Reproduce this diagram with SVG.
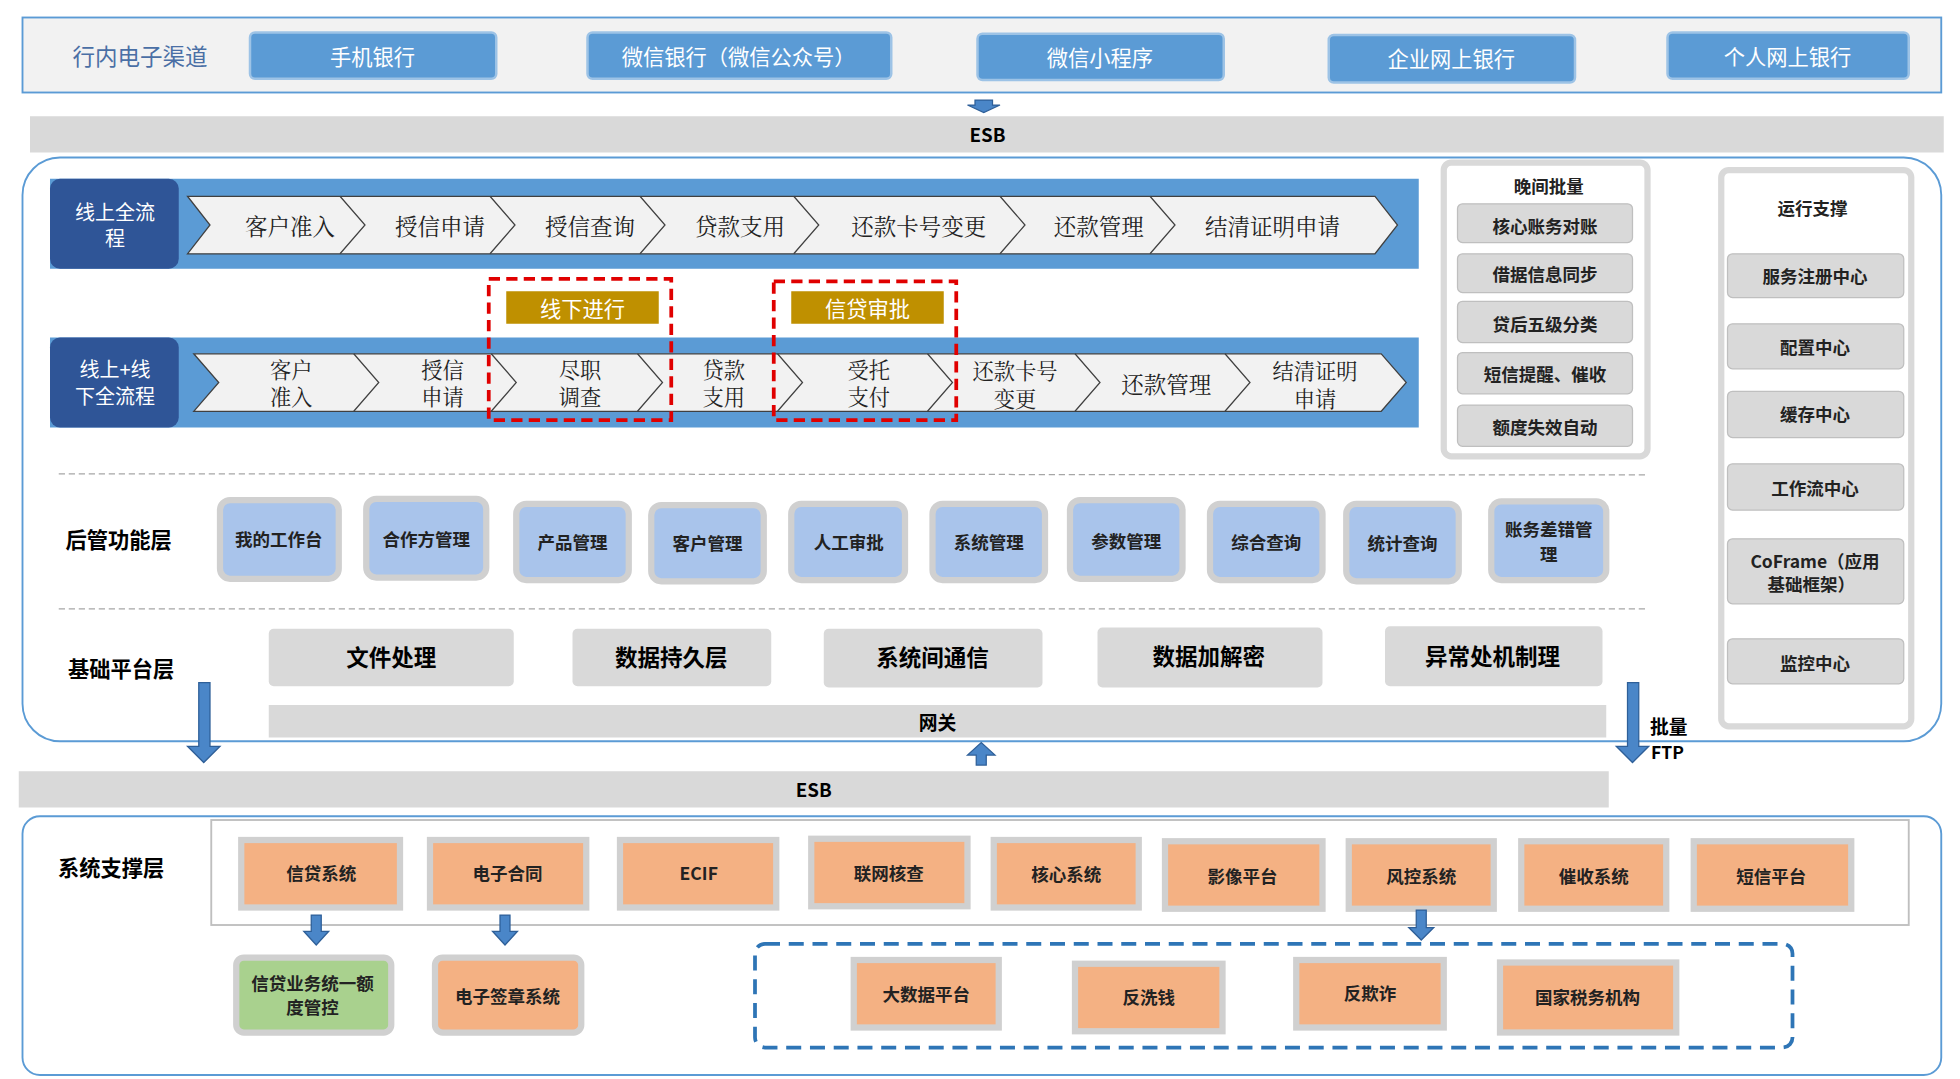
<svg xmlns="http://www.w3.org/2000/svg" width="1960" height="1079" viewBox="0 0 1960 1079">
<defs>
<style>
text{font-family:"Noto Sans CJK SC","Liberation Sans",sans-serif;text-anchor:middle;dominant-baseline:central}
.btn{fill:#5b9bd5;stroke:#9dc3e6;stroke-width:2}
.bt{fill:#fff;font-size:17px}
.chev{fill:#f2f2f2;stroke:#404040;stroke-width:1}
.ct{font-size:18px;fill:#222;font-family:"Noto Serif CJK SC","Noto Sans CJK SC",serif}
.ct2{font-size:17px;fill:#222;font-family:"Noto Serif CJK SC","Noto Sans CJK SC",serif}
.gbox{fill:#fff;stroke:#d9d9d9;stroke-width:5}
.gi{fill:#d9d9d9;stroke:#bfbfbf;stroke-width:1}
.st{font-size:14px;font-weight:bold;fill:#222}
.lb{fill:#a9c4eb;stroke:#d0d0d0;stroke-width:5}
.ob{fill:#f4b183;stroke:#d0d0d0;stroke-width:5}
.bar{fill:#d9d9d9}
.arr{fill:#4a86c8;stroke:#2e5f98;stroke-width:1}
</style>
</defs>
<g transform="scale(1.25)">
<g id="channels">
<rect x="18" y="14" width="1535" height="60" fill="#f2f2f2" stroke="#5b9bd5" stroke-width="1.5"/>
<text x="112" y="44" font-size="18" fill="#4a6fa5">行内电子渠道</text>
<rect class="btn" x="200" y="26" width="197" height="37" rx="4"/><text class="bt" x="298" y="44">手机银行</text>
<rect class="btn" x="470" y="26" width="243" height="37" rx="4"/><text class="bt" x="591" y="44">微信银行（微信公众号）</text>
<rect class="btn" x="782" y="27" width="197" height="37" rx="4"/><text class="bt" x="880" y="45">微信小程序</text>
<rect class="btn" x="1063" y="28" width="197" height="38" rx="4"/><text class="bt" x="1161" y="46">企业网上银行</text>
<rect class="btn" x="1334" y="26" width="193" height="37" rx="4"/><text class="bt" x="1430" y="44">个人网上银行</text>
</g>
<g id="esb1"><rect class="bar" x="24" y="93" width="1531" height="29"/><text x="790" y="107" font-size="15" font-weight="bold">ESB</text></g>
<rect x="18" y="126" width="1535" height="467" rx="30" fill="#fff" stroke="#5b9bd5" stroke-width="1.5"/>
<g id="row1">
<rect x="40" y="143" width="1095" height="72" fill="#5b9bd5"/>
<rect x="40" y="143" width="103" height="72" rx="8" fill="#2f5597"/>
<text x="92" y="169" fill="#fff" font-size="16">线上全流</text><text x="92" y="190" fill="#fff" font-size="16">程</text>
<polygon class="chev" points="150,157 1100,157 1118,180 1100,203 150,203 168,180"/>
<g fill="none" stroke="#404040"><path d="M272,157 l20,23 -20,23M392,157 l20,23 -20,23M512,157 l20,23 -20,23M635,157 l20,23 -20,23M800,157 l20,23 -20,23M920,157 l20,23 -20,23"/></g>
<text class="ct" x="232" y="180">客户准入</text><text class="ct" x="352" y="180">授信申请</text><text class="ct" x="472" y="180">授信查询</text><text class="ct" x="592" y="180">贷款支用</text><text class="ct" x="735" y="180">还款卡号变更</text><text class="ct" x="879" y="180">还款管理</text><text class="ct" x="1018" y="180">结清证明申请</text>
</g>
<g id="row2">
<rect x="40" y="270" width="1095" height="72" fill="#5b9bd5"/>
<rect x="40" y="270" width="103" height="72" rx="8" fill="#2f5597"/>
<text x="92" y="295" fill="#fff" font-size="16">线上+线</text><text x="92" y="316" fill="#fff" font-size="16">下全流程</text>
<polygon class="chev" points="155,283 1105,283 1125,306 1105,329 155,329 175,306"/>
<g fill="none" stroke="#404040"><path d="M283,283 l20,23 -20,23M393,283 l20,23 -20,23M510,283 l20,23 -20,23M622,283 l20,23 -20,23M742,283 l20,23 -20,23M860,283 l20,23 -20,23M980,283 l20,23 -20,23"/></g>
<text class="ct2" x="233" y="295">客户</text><text class="ct2" x="233" y="317">准入</text>
<text class="ct2" x="354" y="295">授信</text><text class="ct2" x="354" y="317">申请</text>
<text class="ct2" x="464" y="295">尽职</text><text class="ct2" x="464" y="317">调查</text>
<text class="ct2" x="579" y="295">贷款</text><text class="ct2" x="579" y="317">支用</text>
<text class="ct2" x="695" y="295">受托</text><text class="ct2" x="695" y="317">支付</text>
<text class="ct2" x="812" y="296">还款卡号</text><text class="ct2" x="812" y="318">变更</text>
<text class="ct" x="933" y="306">还款管理</text>
<text class="ct2" x="1052" y="296">结清证明</text><text class="ct2" x="1052" y="318">申请</text>
</g>
<g id="offline">
<rect x="391" y="223" width="146" height="113" fill="none" stroke="#e00000" stroke-width="3" stroke-dasharray="9,5"/>
<rect x="405" y="233" width="122" height="26" fill="#bf9000"/><text x="466" y="246" fill="#fff" font-size="17">线下进行</text>
</g>
<g id="approve">
<rect x="619" y="225" width="146" height="111" fill="none" stroke="#e00000" stroke-width="3" stroke-dasharray="9,5"/>
<rect x="633" y="233" width="122" height="26" fill="#bf9000"/><text x="694" y="246" fill="#fff" font-size="17">信贷审批</text>
</g>
<g id="batch">
<rect class="gbox" x="1155" y="130" width="163" height="235" rx="6"/>
<text x="1239" y="148" class="st" font-size="15">晚间批量</text>
<rect class="gi" x="1166" y="163" width="140" height="31" rx="4"/><text class="st" x="1236" y="180">核心账务对账</text>
<rect class="gi" x="1166" y="203" width="140" height="31" rx="4"/><text class="st" x="1236" y="219">借据信息同步</text>
<rect class="gi" x="1166" y="241" width="140" height="33" rx="4"/><text class="st" x="1236" y="259">贷后五级分类</text>
<rect class="gi" x="1166" y="282" width="140" height="33" rx="4"/><text class="st" x="1236" y="299">短信提醒、催收</text>
<rect class="gi" x="1166" y="324" width="140" height="33" rx="4"/><text class="st" x="1236" y="341">额度失效自动</text>
</g>
<g id="ops">
<rect class="gbox" x="1377" y="136" width="152" height="445" rx="6"/>
<text x="1450" y="166" class="st" font-size="16">运行支撑</text>
<rect class="gi" x="1382" y="203" width="141" height="35" rx="4"/><text class="st" x="1452" y="220">服务注册中心</text>
<rect class="gi" x="1382" y="259" width="141" height="36" rx="4"/><text class="st" x="1452" y="277">配置中心</text>
<rect class="gi" x="1382" y="313" width="141" height="37" rx="4"/><text class="st" x="1452" y="331">缓存中心</text>
<rect class="gi" x="1382" y="371" width="141" height="37" rx="4"/><text class="st" x="1452" y="390">工作流中心</text>
<rect class="gi" x="1382" y="431" width="141" height="52" rx="4"/><text class="st" x="1452" y="448">CoFrame（应用</text><text class="st" x="1449" y="467">基础框架）</text>
<rect class="gi" x="1382" y="511" width="141" height="36" rx="4"/><text class="st" x="1452" y="530">监控中心</text>
</g>
<g stroke="#a6a6a6" stroke-dasharray="5,3"><line x1="47" y1="379" x2="1318" y2="380"/><line x1="47" y1="487" x2="1318" y2="487"/></g>
<g id="backend">
<text x="95" y="431" font-size="17" font-weight="bold">后管功能层</text>
<rect class="lb" x="176" y="400" width="95" height="63" rx="8"/><text class="st" x="223" y="431">我的工作台</text>
<rect class="lb" x="293" y="399" width="96" height="63" rx="8"/><text class="st" x="341" y="431">合作方管理</text>
<rect class="lb" x="413" y="403" width="90" height="61" rx="8"/><text class="st" x="458" y="433">产品管理</text>
<rect class="lb" x="521" y="404" width="90" height="61" rx="8"/><text class="st" x="566" y="434">客户管理</text>
<rect class="lb" x="633" y="403" width="91" height="61" rx="8"/><text class="st" x="679" y="433">人工审批</text>
<rect class="lb" x="746" y="403" width="90" height="61" rx="8"/><text class="st" x="791" y="433">系统管理</text>
<rect class="lb" x="856" y="400" width="90" height="63" rx="8"/><text class="st" x="901" y="432">参数管理</text>
<rect class="lb" x="968" y="403" width="90" height="61" rx="8"/><text class="st" x="1013" y="433">综合查询</text>
<rect class="lb" x="1077" y="403" width="90" height="62" rx="8"/><text class="st" x="1122" y="434">统计查询</text>
<rect class="lb" x="1193" y="401" width="92" height="63" rx="8"/><text class="st" x="1239" y="423">账务差错管</text><text class="st" x="1239" y="443">理</text>
</g>
<g id="platform">
<text x="97" y="534" font-size="17" font-weight="bold">基础平台层</text>
<rect class="bar" x="215" y="503" width="196" height="46" rx="4"/><text x="313" y="525" font-size="18" font-weight="bold">文件处理</text>
<rect class="bar" x="458" y="503" width="159" height="46" rx="4"/><text x="537" y="525" font-size="18" font-weight="bold">数据持久层</text>
<rect class="bar" x="659" y="503" width="175" height="47" rx="4"/><text x="746" y="525" font-size="18" font-weight="bold">系统间通信</text>
<rect class="bar" x="878" y="502" width="180" height="48" rx="4"/><text x="967" y="524" font-size="18" font-weight="bold">数据加解密</text>
<rect class="bar" x="1108" y="501" width="174" height="48" rx="4"/><text x="1194" y="524" font-size="18" font-weight="bold">异常处机制理</text>
<rect class="bar" x="215" y="564" width="1070" height="26"/><text x="750" y="577" font-size="15" font-weight="bold">网关</text>
</g>
<text x="1335" y="580" font-size="15" font-weight="bold">批量</text>
<text x="1334" y="601" font-size="14" font-weight="bold">FTP</text>
<g id="esb2"><rect class="bar" x="15" y="617" width="1272" height="29"/><text x="651" y="631" font-size="15" font-weight="bold">ESB</text></g>
<rect x="18" y="653" width="1535" height="207" rx="14" fill="#fff" stroke="#5b9bd5" stroke-width="1.5"/>
<g id="support">
<text x="89" y="693" font-size="17" font-weight="bold">系统支撑层</text>
<rect x="169" y="656" width="1358" height="84" fill="#fff" stroke="#bfbfbf" stroke-width="1.5"/>
<rect class="ob" x="193" y="672" width="127" height="54"/><text class="st" font-size="16" x="257" y="698">信贷系统</text>
<rect class="ob" x="344" y="672" width="125" height="54"/><text class="st" font-size="16" x="406" y="698">电子合同</text>
<rect class="ob" x="496" y="672" width="125" height="54"/><text class="st" font-size="16" x="559" y="698">ECIF</text>
<rect class="ob" x="649" y="671" width="125" height="54"/><text class="st" font-size="16" x="711" y="698">联网核查</text>
<rect class="ob" x="795" y="672" width="116" height="54"/><text class="st" font-size="16" x="853" y="699">核心系统</text>
<rect class="ob" x="932" y="673" width="126" height="54"/><text class="st" font-size="16" x="994" y="700">影像平台</text>
<rect class="ob" x="1079" y="673" width="116" height="54"/><text class="st" font-size="16" x="1137" y="700">风控系统</text>
<rect class="ob" x="1217" y="673" width="116" height="54"/><text class="st" font-size="16" x="1275" y="700">催收系统</text>
<rect class="ob" x="1355" y="673" width="126" height="54"/><text class="st" font-size="16" x="1417" y="700">短信平台</text>
</g>
<g id="sub">
<rect x="189" y="766" width="124" height="60" fill="#a9d18e" stroke="#d0d0d0" stroke-width="5" rx="6"/><text class="st" x="250" y="786">信贷业务统一额</text><text class="st" x="250" y="805">度管控</text>
<rect class="ob" x="348" y="766" width="117" height="60" rx="6"/><text class="st" x="406" y="796">电子签章系统</text>
<rect x="604" y="755" width="830" height="83" rx="8" fill="none" stroke="#2e75b6" stroke-width="3" stroke-dasharray="12,7"/>
<rect class="ob" x="683" y="768" width="116" height="54"/><text class="st" font-size="16" x="741" y="795">大数据平台</text>
<rect class="ob" x="860" y="771" width="118" height="54"/><text class="st" font-size="16" x="919" y="797">反洗钱</text>
<rect class="ob" x="1037" y="768" width="118" height="54"/><text class="st" font-size="16" x="1096" y="794">反欺诈</text>
<rect class="ob" x="1200" y="770" width="141" height="56"/><text class="st" font-size="16" x="1270" y="797">国家税务机构</text>
</g>
<g id="connectors">
<polygon class="arr" points="780,80 794,80 794,84 800,84 787,90 774,84 780,84"/>
<polygon class="arr" points="159,546 168,546 168,597 176,597 163,610 150,597 159,597"/>
<polygon class="arr" points="781,612 789,612 789,604 796,604 785,594 774,604 781,604"/>
<polygon class="arr" points="1302,546 1311,546 1311,597 1319,597 1306,610 1293,597 1302,597"/>
<polygon class="arr" points="249,732 257,732 257,745 263,745 253,756 243,745 249,745"/>
<polygon class="arr" points="400,732 408,732 408,745 414,745 404,756 394,745 400,745"/>
<polygon class="arr" points="1133,728 1141,728 1141,742 1147,742 1137,752 1127,742 1133,742"/>
</g>
</g>
</svg>
